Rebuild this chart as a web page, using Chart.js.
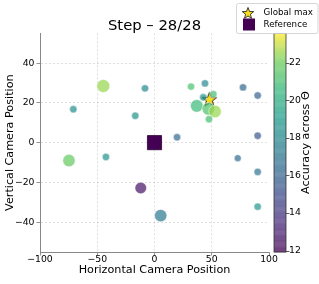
<!DOCTYPE html>
<html><head><meta charset="utf-8">
<script src="https://cdn.jsdelivr.net/npm/chart.js@4"></script>
<style>html,body{margin:0;padding:0;background:#fff}#wrap{width:319px;height:284px}</style>
</head><body><div id="wrap"><canvas id="c" width="319" height="284"></canvas></div>
<script>
// ---- data ----
const xs     = [-44.7, -70.9, -8.3, -16.8, 19.7, 31.9, 44.1, 51.4, 42.6, 36.9, 47.0, 52.8, 47.6, 77.3, 90.1, 90.1, -74.7, -42.4, -12.0, 5.4, 72.7, 90.1, 90.1];
const ys     = [28.5, 16.8, 27.3, 13.5, 2.7, 28.2, 29.8, 24.4, 22.8, 18.5, 17.0, 15.7, 11.8, 27.8, 23.7, 3.5, -9.0, -7.2, -22.8, -36.7, -7.8, -14.7, -32.2];
const accuracy = [22.5, 18.3, 18.0, 18.5, 16.4, 21.2, 18.0, 21.0, 18.6, 20.8, 21.3, 22.5, 21.0, 16.3, 16.0, 15.5, 21.8, 18.5, 12.6, 17.2, 16.5, 17.0, 18.8];
const sizes  = [6.5, 3.7, 3.7, 3.7, 3.7, 3.7, 3.7, 3.7, 3.7, 6.3, 6.3, 6.3, 3.7, 3.7, 3.7, 3.7, 6.2, 3.7, 5.8, 6.2, 3.5, 3.7, 3.7];
const globalMax = [{x: 47.9, y: 21.8}];
const reference = [{x: 0, y: 0}];
const xTicks = [-100, -50, 0, 50, 100];
const yTicks = [-40, -20, 0, 20, 40];
const cbTicks = [12, 14, 16, 18, 20, 22];
const cbMin = 11.93, cbMax = 23.56;

// ---- viridis ----
const VIR = [[68,1,84],[72,40,120],[62,73,137],[49,104,142],[38,130,142],[31,158,137],[53,183,121],[110,206,88],[253,231,37]];
function viridis(t, a){
  t = Math.max(0, Math.min(1, t));
  const p = t*(VIR.length-1), i = Math.min(VIR.length-2, Math.floor(p)), f = p - i;
  const c = VIR[i].map((v,k)=>Math.round(v + (VIR[i+1][k]-v)*f));
  return `rgba(${c[0]},${c[1]},${c[2]},${a})`;
}
const norm = v => (v - cbMin)/(cbMax - cbMin);
const ALPHA = 0.7;

function starCanvas(R, lw){
  const s = Math.ceil(R*2+4), cv = document.createElement('canvas');
  cv.width = s; cv.height = s;
  const g = cv.getContext('2d');
  g.beginPath();
  for (let i=0;i<10;i++){
    const r = i%2 ? R*0.42 : R, a = -Math.PI/2 + i*Math.PI/5;
    const px = s/2 + r*Math.cos(a), py = s/2 + r*Math.sin(a) + R*0.08;
    i ? g.lineTo(px,py) : g.moveTo(px,py);
  }
  g.closePath(); g.fillStyle = '#f7dc1e'; g.fill();
  g.lineWidth = lw; g.strokeStyle = '#111'; g.stroke();
  return cv;
}
const starImg = starCanvas(7.5, 0.9);
const starSmall = starCanvas(6, 0.8);

const minus = v => String(v).replace('-', '\u2212');

const extras = {
  id: 'extras',
  afterDraw(chart){
    const ctx = chart.ctx, cb = chart.scales.cb;
    const x0 = cb.left + 5, w = 12;
    ctx.save();
    const steps = 200, top = cb.getPixelForValue(cbMax), bot = cb.getPixelForValue(cbMin);
    for (let i=0;i<steps;i++){
      const v0 = cbMin + (cbMax-cbMin)*i/steps, v1 = cbMin + (cbMax-cbMin)*(i+1)/steps;
      const y0 = cb.getPixelForValue(v0), y1 = cb.getPixelForValue(v1);
      ctx.fillStyle = viridis(norm((v0+v1)/2), 1);
      ctx.globalAlpha = ALPHA;
      ctx.fillRect(x0, y1, w, y0 - y1 + 0.3);
    }
    ctx.globalAlpha = 1;
    ctx.strokeStyle = '#333'; ctx.lineWidth = 0.8;
    ctx.strokeRect(x0, top, w, bot - top);
    ctx.beginPath();
    cbTicks.forEach(t => { const y = Math.round(cb.getPixelForValue(t)) + 0.5; ctx.moveTo(x0 + w, y); ctx.lineTo(x0 + w + 3.5, y); });
    ctx.stroke();
    ctx.fillStyle = '#000';
    ctx.font = '11.2px "DejaVu Sans"';
    ctx.textAlign = 'center'; ctx.textBaseline = 'middle';
    ctx.translate(306.5, (top+bot)/2);
    ctx.rotate(-Math.PI/2);
    ctx.fillText('Accuracy across \u0398', 0, 0);
    ctx.restore();
    // legend
    ctx.save();
    ctx.fillStyle = 'rgba(255,255,255,0.85)';
    ctx.strokeStyle = '#ccc'; ctx.lineWidth = 0.8;
    ctx.beginPath();
    if (ctx.roundRect) ctx.roundRect(236.5, 3.5, 81.5, 30, 2); else ctx.rect(236.5, 3.5, 81.5, 30);
    ctx.fill(); ctx.stroke();
    ctx.drawImage(starSmall, 248 - starSmall.width/2, 13 - starSmall.height/2);
    ctx.fillStyle = '#440154';
    ctx.fillRect(243, 18.5, 12, 12);
    ctx.fillStyle = '#000';
    ctx.font = '8.7px "DejaVu Sans"';
    ctx.textAlign = 'left'; ctx.textBaseline = 'middle';
    ctx.fillText('Global max', 263.5, 12.5);
    ctx.fillText('Reference', 263.5, 25);
    ctx.restore();
  }
};

const gridColor = 'rgba(0,0,0,0.16)';
new Chart(document.getElementById('c'), {
  type: 'scatter',
  data: {
    datasets: [
      {
        data: xs.map((x,i)=>({x, y: ys[i]})),
        pointRadius: sizes,
        pointHoverRadius: sizes,
        backgroundColor: accuracy.map(v => viridis(norm(v), ALPHA)),
        borderColor: 'rgba(255,255,255,0.7)',
        borderWidth: 0.7
      },
      {
        data: reference,
        pointStyle: 'rect',
        pointRadius: 10,
        backgroundColor: '#440154',
        borderColor: '#2a0033',
        borderWidth: 0.8
      },
      {
        data: globalMax,
        pointStyle: starImg,
        pointRadius: 8
      }
    ]
  },
  options: {
    responsive: false,
    animation: false,
    devicePixelRatio: 1,
    layout: { padding: { top: 1.5, left: 0, right: 0, bottom: 0 } },
    plugins: {
      legend: { display: false },
      tooltip: { enabled: false },
      title: {
        display: true, fullSize: false,
        text: 'Step \u2013 28/28',
        color: '#000',
        font: { family: '"DejaVu Sans"', size: 14.8, weight: 'normal', lineHeight: 1.0 },
        padding: { top: 17, bottom: 0 }
      }
    },
    scales: {
      x: {
        type: 'linear', min: -100, max: 100,
        afterBuildTicks: s => { s.ticks = xTicks.map(v => ({value: v})); },
        afterFit: s => { s.height = 32; },
        ticks: { color: '#000', font: { family: '"DejaVu Sans"', size: 9.3 }, padding: -1, maxRotation: 0, callback: v => minus(v) },
        grid: { color: c => (c.tick && (c.tick.value === -100 || c.tick.value === 100)) ? 'rgba(0,0,0,0)' : gridColor, lineWidth: 0.8, tickColor: '#777', tickLength: 3.5, tickWidth: 0.8 },
        border: { display: true, color: '#888', width: 1, dash: [2, 2] },
        title: { display: true, text: 'Horizontal Camera Position', color: '#000', font: { family: '"DejaVu Sans"', size: 11.2 }, padding: { top: 0, bottom: 7 } }
      },
      y: {
        type: 'linear', min: -55, max: 55, position: 'left',
        afterBuildTicks: s => { s.ticks = yTicks.map(v => ({value: v})); },
        afterFit: s => { s.width = 40; },
        ticks: { color: '#000', font: { family: '"DejaVu Sans"', size: 9.3 }, padding: 2, callback: v => minus(v) },
        grid: { color: gridColor, lineWidth: 0.8, tickColor: '#777', tickLength: 3.5, tickWidth: 0.8 },
        border: { display: true, color: '#888', width: 1, dash: [2, 2] },
        title: { display: true, text: 'Vertical Camera Position', color: '#000', font: { family: '"DejaVu Sans"', size: 11.2 }, padding: { top: 3, bottom: 0 } }
      },
      cb: {
        type: 'linear', axis: 'y', position: 'right', min: cbMin, max: cbMax,
        afterBuildTicks: s => { s.ticks = cbTicks.map(v => ({value: v})); },
        afterFit: s => { s.width = 50; },
        ticks: { color: '#000', font: { family: '"DejaVu Sans"', size: 9.3 }, padding: 20 },
        grid: { display: false, drawTicks: false },
        border: { display: false }
      }
    }
  },
  plugins: [extras]
});
</script></body></html>
